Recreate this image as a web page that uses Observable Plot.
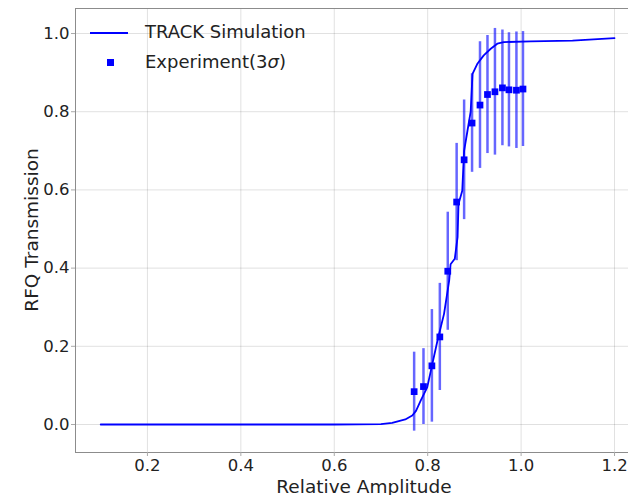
<!DOCTYPE html>
<html><head><meta charset="utf-8">
<script src="https://cdn.jsdelivr.net/npm/d3@7"></script>
<script src="https://cdn.jsdelivr.net/npm/@observablehq/plot@0.6"></script>
<style>
body{margin:0;background:#fff;}
#wrap{position:relative;width:628px;height:495px;overflow:hidden;}
.leg{position:absolute;font-family:"DejaVu Sans",sans-serif;font-size:18px;line-height:20px;color:#222;white-space:nowrap;}
.ax{position:absolute;font-family:"DejaVu Sans",sans-serif;font-size:18.5px;line-height:15px;color:#222;white-space:nowrap;}
.sw{position:absolute;}
</style></head>
<body><div id="wrap"></div>
<script>
// TRACK simulation curve
const simX = [0.10, 0.60, 0.70, 0.724, 0.742, 0.752, 0.767, 0.775, 0.785, 0.799, 0.810, 0.821, 0.835, 0.846, 0.849, 0.858, 0.864, 0.866, 0.874, 0.878, 0.885, 0.892, 0.896, 0.906, 0.920, 0.935, 0.949, 0.963, 1.02, 1.11, 1.20];
const simY = [0.0, 0.0, 0.001, 0.004, 0.010, 0.013, 0.023, 0.035, 0.061, 0.095, 0.155, 0.215, 0.283, 0.368, 0.410, 0.424, 0.479, 0.564, 0.598, 0.700, 0.750, 0.800, 0.897, 0.922, 0.944, 0.961, 0.974, 0.978, 0.980, 0.982, 0.988];
// Experiment (3 sigma)
const expX = [0.771, 0.791, 0.809, 0.826, 0.843, 0.862, 0.878, 0.895, 0.912, 0.928, 0.944, 0.960, 0.974, 0.990, 1.004];
const expY = [0.084, 0.097, 0.150, 0.224, 0.392, 0.569, 0.677, 0.771, 0.817, 0.844, 0.851, 0.861, 0.856, 0.855, 0.858];
const expErr = [0.101, 0.097, 0.144, 0.137, 0.151, 0.150, 0.153, 0.126, 0.162, 0.151, 0.162, 0.148, 0.146, 0.149, 0.147];
const xTicks = [0.2, 0.4, 0.6, 0.8, 1.0, 1.2];
const yTicks = [0.0, 0.2, 0.4, 0.6, 0.8, 1.0];
const xLabel = "Relative Amplitude";
const yLabel = "RFQ Transmission";
const legendLabels = ["TRACK Simulation", "Experiment(3", "σ", ")"];

const sim = simX.map((x, i) => ({x, y: simY[i]}));
const exp = expX.map((x, i) => ({x, y: expY[i], lo: expY[i] - expErr[i], hi: expY[i] + expErr[i]}));

const fmt = d3.format(".1f");
const chart = Plot.plot({
  width: 628, height: 495,
  marginLeft: 75, marginRight: -2, marginTop: 8, marginBottom: 43,
  style: {fontFamily: "DejaVu Sans, sans-serif", fontSize: "16.5px", color: "#222", background: "#fff"},
  x: {domain: [0.046, 1.2342]},
  y: {domain: [-0.0716, 1.064]},
  marks: [
    Plot.gridX(xTicks, {stroke: "#000", strokeOpacity: 0.12}),
    Plot.gridY(yTicks, {stroke: "#000", strokeOpacity: 0.12}),
    Plot.frame({stroke: "#8c8c8c"}),
    Plot.axisX({ticks: xTicks, tickFormat: fmt, tickSize: 4, tickPadding: 3, label: null, stroke: "#aaa", fill: "#222"}),
    Plot.axisY({ticks: yTicks, tickFormat: fmt, tickSize: 4, tickPadding: 2, label: null, stroke: "#aaa", fill: "#222"}),
    Plot.line(sim, {x: "x", y: "y", stroke: "#0000ff", strokeWidth: 1.8}),
    Plot.ruleX(exp, {x: "x", y1: "lo", y2: "hi", stroke: "#0000ff", strokeOpacity: 0.6, strokeWidth: 2.5}),
    Plot.dot(exp, {x: "x", y: "y", symbol: "square", fill: "#0000ff", r: 3.8})
  ]
});
const wrap = document.getElementById("wrap");
wrap.appendChild(chart);

// axis labels
const xl = document.createElement("div");
xl.className = "ax";
xl.textContent = xLabel;
Object.assign(xl.style, {left: "364px", top: "485.5px", transform: "translate(-50%,-50%)"});
wrap.appendChild(xl);
const yl = document.createElement("div");
yl.className = "ax";
yl.textContent = yLabel;
Object.assign(yl.style, {left: "31px", top: "230px", transform: "translate(-50%,-50%) rotate(-90deg)"});
wrap.appendChild(yl);

// legend overlay
const l1 = document.createElement("div");
l1.className = "sw";
Object.assign(l1.style, {left: "90px", top: "31.5px", width: "38px", height: "2px", background: "#0000ff"});
wrap.appendChild(l1);
const l2 = document.createElement("div");
l2.className = "sw";
Object.assign(l2.style, {left: "107px", top: "59px", width: "6.5px", height: "6.5px", background: "#0000ff"});
wrap.appendChild(l2);
const t1 = document.createElement("div");
t1.className = "leg";
t1.style.left = "145px"; t1.style.top = "22px";
t1.textContent = legendLabels[0];
wrap.appendChild(t1);
const t2 = document.createElement("div");
t2.className = "leg";
t2.style.left = "145px"; t2.style.top = "52px";
t2.innerHTML = legendLabels[1] + '<span style="font-style:italic">' + legendLabels[2] + '</span>' + legendLabels[3];
wrap.appendChild(t2);
</script>
</body></html>
